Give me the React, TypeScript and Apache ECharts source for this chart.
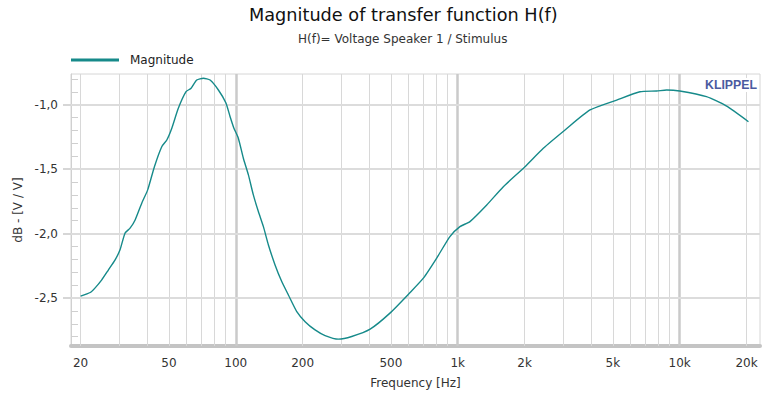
import React, { useEffect, useRef } from "react";
import * as echarts from "echarts";

const FONT = "DejaVu Sans, Verdana, sans-serif";
const LOGO_FONT = "Liberation Sans, Arial, sans-serif";

const freqHz = [
  20, 22.1, 23.2, 24.9, 26.7, 28.6, 30.1, 31.7, 33.4, 35.2, 37.7, 40.1, 43, 46.4, 48.9, 51.5,
  55.1, 59.7, 62.9, 66.7, 71.5, 76.6, 83.5, 90.2, 94.3, 98, 102.7, 108.2, 114, 120, 126.4,
  133.2, 140.3, 150.3, 161.1, 172.6, 188.3, 205.3, 227.6, 252.6, 290, 333, 403, 495, 610, 700,
  804, 922, 1023, 1135, 1351, 1605, 2009, 2430, 3044, 3945, 5200, 6620, 7870, 8730, 10000,
  13200, 16200, 20400,
];
const magnitudeDb = [
  -2.485, -2.457, -2.423, -2.359, -2.281, -2.204, -2.126, -1.997, -1.958, -1.894, -1.764,
  -1.661, -1.481, -1.326, -1.274, -1.183, -1.028, -0.899, -0.873, -0.809, -0.795, -0.809,
  -0.886, -0.985, -1.093, -1.18, -1.26, -1.416, -1.545, -1.7, -1.829, -1.946, -2.088, -2.243,
  -2.372, -2.476, -2.605, -2.683, -2.747, -2.791, -2.819, -2.798, -2.741, -2.617, -2.457,
  -2.346, -2.19, -2.023, -1.946, -1.907, -1.778, -1.636, -1.481, -1.338, -1.196, -1.041,
  -0.964, -0.9, -0.894, -0.886, -0.894, -0.938, -1.01, -1.132,
];

const xLabelValues = [20, 50, 100, 200, 500, 1000, 2000, 5000, 10000, 20000];
const xGridMinor = [
  20, 30, 40, 50, 60, 70, 80, 90, 200, 300, 400, 500, 600, 700, 800, 900, 2000, 3000, 4000,
  5000, 6000, 7000, 8000, 9000, 20000,
];
const xGridDecade = [100, 1000, 10000];
const yLabelValues = [-2.5, -2.0, -1.5, -1.0];
const yMinorTicks = [
  -2.8, -2.7, -2.6, -2.5, -2.4, -2.3, -2.2, -2.1, -2.0, -1.9, -1.8, -1.7, -1.6, -1.5, -1.4,
  -1.3, -1.2, -1.1, -1.0, -0.9, -0.8,
];

function fmtFreq(v: number): string {
  if (v >= 1000) return Math.round(v / 1000) + "k";
  return String(Math.round(v));
}

export default function App() {
  const ref = useRef<HTMLDivElement>(null);
  useEffect(() => {
    if (!ref.current) return;
    document.body.style.margin = "0";
    document.body.style.overflow = "hidden";
    document.documentElement.style.overflow = "hidden";
    const chart = echarts.init(ref.current, null, { renderer: "svg" });
    const data = freqHz.map((f, i) => [f, magnitudeDb[i]]);
    chart.setOption({
      animation: false,
      backgroundColor: "#ffffff",
      title: [
        {
          text: "Magnitude of transfer function H(f)",
          left: 249,
          top: 6,
          padding: 0,
          textStyle: { fontFamily: FONT, fontSize: 17.7, fontWeight: "normal", color: "#111" },
        },
        {
          text: "H(f)= Voltage Speaker 1 / Stimulus",
          left: 298,
          top: 33,
          padding: 0,
          textStyle: { fontFamily: FONT, fontSize: 12, fontWeight: "normal", color: "#333" },
        },
      ],
      legend: {
        left: 71,
        top: 54,
        padding: 0,
        icon: "rect",
        itemWidth: 48,
        itemHeight: 3,
        textStyle: { fontFamily: FONT, fontSize: 12, color: "#222", padding: [0, 0, 0, 6] },
        data: ["Magnitude"],
      },
      grid: {
        left: 71,
        right: 3,
        top: 74,
        bottom: 51,
        show: true,
        borderColor: "#d6d6d6",
        borderWidth: 1,
        containLabel: false,
      },
      xAxis: {
        type: "log",
        logBase: 10,
        min: 18.1,
        max: 23000,
        name: "Frequency [Hz]",
        nameLocation: "middle",
        nameGap: 31,
        nameTextStyle: { fontFamily: FONT, fontSize: 12, color: "#333" },
        axisLine: { show: true, lineStyle: { color: "#c4c4c4", width: 4 } },
        axisTick: { show: false },
        splitLine: { show: false },
        minorSplitLine: { show: false },
        axisLabel: {
          customValues: xLabelValues,
          formatter: (v: number) => fmtFreq(v),
          fontFamily: FONT,
          fontSize: 12,
          color: "#333",
          margin: 11,
        },
      },
      yAxis: [
        {
          type: "value",
          min: -2.872,
          max: -0.762,
          name: "dB - [V / V]",
          nameLocation: "middle",
          nameRotate: 90,
          nameGap: 47,
          nameTextStyle: { fontFamily: FONT, fontSize: 12, color: "#333" },
          axisLine: { show: true, lineStyle: { color: "#d0d0d0", width: 1 } },
          axisTick: {
            show: true,
            inside: false,
            length: 8,
            customValues: yLabelValues,
            lineStyle: { color: "#d6d6d6", width: 2 },
          },
          splitLine: { show: false },
          axisLabel: {
            customValues: yLabelValues,
            formatter: (v: number) => v.toFixed(1).replace(".", ","),
            fontFamily: FONT,
            fontSize: 12,
            color: "#333",
            margin: 13,
          },
        },
        {
          type: "value",
          min: -2.872,
          max: -0.762,
          position: "left",
          axisLine: { show: false },
          axisLabel: { show: false },
          splitLine: { show: false },
          axisTick: {
            show: true,
            inside: true,
            length: 7,
            customValues: yMinorTicks,
            lineStyle: { color: "#cfcfcf", width: 1 },
          },
        },
      ],
      graphic: [
        {
          type: "text",
          left: 703,
          top: 78,
          z: 20,
          style: {
            text: "KLIPPEL",
            fill: "#4a5aa0",
            font: "bold 12.3px " + LOGO_FONT,
            backgroundColor: "#ffffff",
            padding: [1, 2, 1, 2],
          },
        },
      ],
      series: [
        {
          name: "grid-minor",
          type: "line",
          data: [],
          silent: true,
          z: 1,
          markLine: {
            silent: true,
            symbol: "none",
            z: 1,
            label: { show: false },
            lineStyle: { color: "#d8d8d8", width: 1, type: "solid" },
            data: xGridMinor.map((v) => ({ xAxis: v })),
          },
        },
        {
          name: "grid-decade",
          type: "line",
          data: [],
          silent: true,
          z: 1,
          markLine: {
            silent: true,
            symbol: "none",
            z: 1,
            label: { show: false },
            lineStyle: { color: "#cacaca", width: 2.5, type: "solid" },
            data: xGridDecade.map((v) => ({ xAxis: v })),
          },
        },
        {
          name: "grid-h",
          type: "line",
          data: [],
          silent: true,
          z: 1,
          markLine: {
            silent: true,
            symbol: "none",
            z: 1,
            label: { show: false },
            lineStyle: { color: "#dcdcdc", width: 2, type: "solid" },
            data: yLabelValues.map((v) => ({ yAxis: v })),
          },
        },
        {
          name: "Magnitude",
          type: "line",
          data,
          smooth: 0.2,
          showSymbol: false,
          symbol: "none",
          z: 5,
          lineStyle: { color: "#168a8a", width: 1.4 },
          itemStyle: { color: "#168a8a" },
        },
      ],
    });
    return () => chart.dispose();
  }, []);
  return <div ref={ref} style={{ width: 763, height: 397 }} />;
}
